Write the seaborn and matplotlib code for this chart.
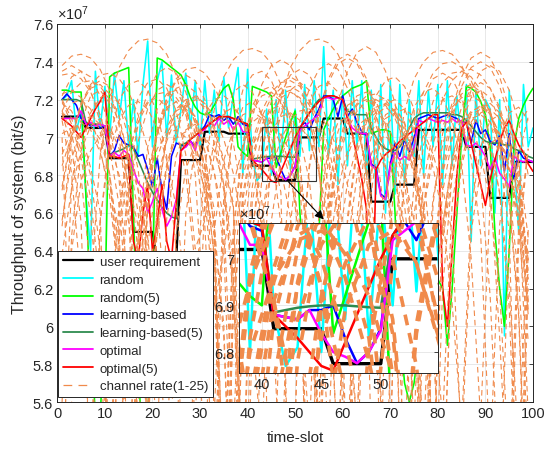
import numpy as np
import pandas as pd
import matplotlib
matplotlib.use('Agg')
import matplotlib.pyplot as plt
import seaborn as sns
from matplotlib.lines import Line2D
from matplotlib.patches import Rectangle
from matplotlib.ticker import FuncFormatter

# ---- data (values in units of 1e7 bit/s) ----
time_slot = np.arange(1, 101)

user_requirement = [
    7.11, 7.11, 7.11, 7.11, 7.11, 7.05, 7.05, 7.05, 7.05, 7.05,
    6.89, 6.89, 6.89, 6.89, 6.89, 6.50, 6.50, 6.50, 6.50, 6.50,
    6.35, 6.35, 6.35, 6.35, 6.35, 6.88, 6.88, 6.88, 6.88, 6.88,
    7.03, 7.03, 7.03, 7.03, 7.03, 7.02, 7.02, 7.02, 7.02, 7.02,
    6.85, 6.85, 6.85, 6.85, 6.85, 6.775, 6.775, 6.775, 6.775, 6.775,
    7.00, 7.00, 7.00, 7.00, 7.00, 7.10, 7.10, 7.10, 7.10, 7.10,
    7.02, 7.02, 7.02, 7.02, 7.02, 6.66, 6.66, 6.66, 6.66, 6.66,
    6.75, 6.75, 6.75, 6.75, 6.75, 7.04, 7.04, 7.04, 7.04, 7.04,
    7.04, 7.04, 7.04, 7.04, 7.04, 6.95, 6.95, 6.95, 6.95, 6.95,
    6.68, 6.68, 6.68, 6.68, 6.68, 6.87, 6.87, 6.87, 6.87, 6.87]

random_alloc = [
    7.20, 7.22, 7.30, 7.03, 7.14, 6.70, 6.40, 7.35, 7.05, 7.27,
    7.00, 7.34, 7.10, 7.30, 6.95, 7.20, 6.90, 7.28, 7.51, 6.95,
    7.30, 7.40, 7.00, 7.33, 6.97, 7.15, 7.34, 7.05, 7.30, 6.95,
    7.30, 7.02, 7.25, 6.98, 7.32, 7.05, 7.22, 7.37, 6.80, 7.36,
    6.89, 6.77, 6.81, 7.15, 6.80, 7.20, 6.87, 7.25, 6.83, 7.15,
    6.90, 7.28, 6.93, 7.30, 6.95, 7.48, 6.90, 7.25, 6.75, 7.25,
    6.85, 7.30, 6.95, 7.30, 6.80, 7.25, 6.70, 7.28, 6.60, 7.30,
    6.70, 7.28, 6.75, 7.20, 6.90, 7.30, 6.80, 7.25, 6.95, 7.28,
    6.75, 7.30, 6.85, 7.22, 6.95, 7.28, 6.45, 7.25, 6.85, 7.20,
    7.15, 6.60, 7.20, 5.95, 7.25, 6.90, 6.50, 7.28, 6.95, 7.05]

random_5 = [
    7.25, 7.25, 7.24, 7.24, 7.24, 6.70, 6.10, 5.50, 5.50, 6.10,
    7.32, 7.34, 7.35, 7.36, 7.37, 6.60, 5.80, 5.30, 5.50, 6.20,
    7.42, 7.41, 7.39, 7.37, 7.35, 7.33, 7.28, 7.21, 7.16, 7.13,
    7.12, 7.13, 7.17, 7.22, 7.26, 7.28, 7.20, 6.95, 6.92, 6.90,
    7.27, 7.26, 7.25, 7.24, 7.22, 6.84, 6.92, 7.00, 7.08, 7.14,
    6.60, 6.30, 6.10, 6.20, 6.50, 7.04, 7.10, 7.15, 7.19, 7.22,
    7.24, 7.26, 7.27, 7.28, 7.30, 7.02, 7.03, 7.04, 7.04, 7.03,
    6.60, 6.00, 5.70, 5.60, 5.70, 5.90, 6.10, 6.30, 6.30, 6.25,
    6.20, 5.90, 6.20, 6.60, 7.00, 7.27, 7.26, 7.24, 7.19, 7.12,
    6.95, 6.50, 6.20, 6.00, 6.40, 6.95, 7.10, 7.17, 7.22, 7.26]

learning = [
    7.20, 7.23, 7.20, 7.17, 7.10, 7.08, 7.06, 7.07, 7.05, 7.06,
    6.90, 6.93, 7.01, 6.97, 6.96, 6.95, 6.90, 6.91, 6.83, 6.74,
    6.89, 6.72, 6.62, 6.90, 6.97, 6.96, 6.95, 6.98, 6.95, 7.03,
    7.06, 7.12, 7.11, 7.12, 7.09, 7.11, 7.07, 7.11, 7.07, 7.06,
    6.88, 6.875, 6.87, 6.89, 6.89, 6.90, 6.83, 6.776, 6.80, 6.85,
    7.05, 7.08, 7.04, 7.10, 7.15, 7.22, 7.22, 7.20, 7.11, 7.22,
    7.11, 7.15, 7.08, 7.03, 7.01, 6.86, 6.84, 6.70, 6.68, 6.86,
    6.97, 6.90, 6.99, 6.92, 7.00, 7.10, 7.11, 7.12, 7.11, 7.10,
    7.11, 7.12, 7.11, 7.10, 7.08, 7.08, 6.97, 7.09, 7.02, 7.04,
    6.98, 6.96, 7.01, 6.82, 7.02, 6.78, 6.93, 6.89, 6.88, 6.87]

learning_5 = [
    7.20, 7.20, 7.20, 7.20, 7.19, 7.08, 7.07, 7.07, 7.07, 7.06,
    6.91, 6.92, 6.93, 6.94, 6.96, 6.94, 6.88, 6.82, 6.76, 6.71,
    6.67, 6.63, 6.60, 6.58, 6.57, 6.96, 6.97, 6.99, 7.01, 7.03,
    7.05, 7.07, 7.09, 7.10, 7.11, 7.11, 7.10, 7.09, 7.08, 7.07,
    6.885, 6.89, 6.895, 6.898, 6.90, 6.90, 6.90, 6.898, 6.896, 6.895,
    7.05, 7.09, 7.13, 7.17, 7.20, 7.21, 7.22, 7.22, 7.21, 7.20,
    7.14, 7.13, 7.12, 7.12, 7.12, 7.05, 7.00, 6.96, 6.94, 6.93,
    6.93, 6.95, 6.99, 7.05, 7.10, 7.12, 7.13, 7.13, 7.13, 7.13,
    7.13, 7.13, 7.12, 7.12, 7.11, 7.09, 7.06, 7.03, 7.00, 6.98,
    6.97, 6.97, 6.97, 6.96, 6.96, 6.94, 6.93, 6.92, 6.90, 6.89]

optimal = [
    7.10, 7.10, 7.10, 7.10, 7.14, 7.07, 7.08, 7.06, 7.07, 7.06,
    6.90, 6.92, 6.90, 6.93, 6.91, 6.83, 6.76, 6.73, 6.60, 6.66,
    6.73, 6.62, 6.53, 6.58, 6.67, 6.93, 6.95, 6.98, 6.93, 7.03,
    7.04, 7.08, 7.06, 7.10, 7.07, 7.09, 7.04, 7.08, 7.03, 7.03,
    6.88, 6.875, 6.87, 6.89, 6.84, 6.80, 6.79, 6.776, 6.80, 6.846,
    7.04, 7.06, 7.08, 7.10, 7.12, 7.21, 7.21, 7.20, 7.21, 7.20,
    7.10, 7.05, 7.03, 7.02, 7.02, 6.85, 6.83, 6.69, 6.67, 6.85,
    6.92, 6.88, 6.90, 6.88, 6.95, 7.09, 7.08, 7.10, 7.09, 7.08,
    7.09, 7.08, 7.10, 7.08, 7.09, 6.96, 6.95, 6.97, 6.94, 6.90,
    6.83, 6.89, 6.81, 6.78, 6.74, 6.90, 6.88, 6.87, 6.88, 6.87]

optimal_5 = [
    7.10, 7.08, 7.06, 7.03, 7.00, 7.05, 7.10, 7.15, 7.19, 7.24,
    6.90, 6.90, 6.89, 6.90, 6.91, 6.45, 6.35, 6.60, 6.75, 6.40,
    6.55, 6.75, 6.45, 6.35, 6.65, 6.93, 6.96, 6.99, 7.01, 7.03,
    7.05, 7.07, 7.09, 7.11, 7.11, 7.11, 7.10, 7.09, 7.08, 7.07,
    6.88, 6.855, 6.83, 6.80, 6.77, 6.76, 6.82, 6.88, 6.94, 7.00,
    7.05, 7.09, 7.13, 7.16, 7.19, 7.21, 7.22, 7.22, 7.21, 7.20,
    7.10, 7.02, 6.90, 6.78, 6.62, 5.80, 6.83, 6.88, 6.91, 6.93,
    6.95, 6.98, 7.00, 7.02, 7.04, 7.06, 7.08, 7.10, 7.12, 7.12,
    6.20, 6.00, 6.40, 6.80, 7.05, 7.08, 6.97, 6.86, 6.75, 6.64,
    6.78, 6.88, 6.98, 7.05, 7.09, 7.02, 6.96, 6.92, 6.86, 6.82]

# channel rates of 25 channels, sampled every 2 slots (x 1e5 bit/s)
channel_slot = np.arange(1, 101, 2)
channel_rate = [
    [745, 748, 745, 735, 718, 690, 630, 520, 660, 705, 725, 733, 735, 730, 718, 695, 645, 450, 620, 680, 708, 724, 734, 739, 740, 737, 730, 718, 700, 670, 610, 560, 675, 708, 722, 725, 718, 700, 660, 480, 630, 690, 718, 735, 745, 748, 745, 735, 718, 690],
    [725, 733, 735, 730, 718, 695, 645, 480, 630, 690, 718, 735, 745, 748, 745, 735, 718, 690, 630, 540, 665, 702, 718, 726, 728, 724, 714, 697, 672, 625, 520, 660, 705, 725, 733, 735, 730, 718, 695, 645, 660, 695, 715, 728, 732, 728, 716, 698, 675, 650],
    [739, 740, 737, 730, 718, 700, 670, 610, 560, 675, 708, 722, 725, 718, 700, 660, 560, 675, 708, 722, 725, 718, 700, 660, 480, 630, 690, 718, 735, 745, 748, 745, 735, 718, 690, 630, 540, 665, 702, 718, 726, 728, 724, 714, 697, 672, 625, 530, 660, 700],
    [700, 560, 440, 620, 690, 720, 737, 746, 751, 752, 750, 744, 733, 714, 680, 600, 520, 660, 705, 725, 733, 735, 730, 718, 695, 645, 480, 630, 690, 718, 735, 745, 748, 745, 735, 718, 690, 630, 540, 665, 702, 718, 726, 728, 724, 714, 697, 672, 625, 540],
    [560, 675, 708, 722, 725, 718, 700, 660, 540, 665, 702, 718, 726, 728, 724, 714, 697, 672, 625, 520, 440, 620, 690, 720, 737, 746, 751, 752, 750, 744, 733, 714, 680, 600, 450, 620, 680, 708, 724, 734, 739, 740, 737, 730, 718, 700, 670, 610, 480, 640],
    [726, 728, 724, 714, 697, 672, 625, 450, 620, 680, 708, 724, 734, 739, 740, 737, 730, 718, 700, 670, 610, 660, 695, 715, 728, 732, 728, 716, 698, 675, 520, 660, 705, 725, 733, 735, 730, 718, 480, 630, 690, 718, 735, 745, 748, 745, 735, 718, 690, 630],
    [690, 718, 735, 745, 748, 745, 735, 718, 690, 630, 560, 675, 708, 722, 725, 718, 700, 660, 520, 660, 705, 725, 733, 735, 730, 718, 695, 645, 560, 675, 708, 722, 725, 718, 700, 660, 450, 620, 680, 708, 724, 734, 739, 740, 737, 730, 718, 700, 670, 610],
    [520, 660, 705, 725, 733, 735, 730, 718, 695, 645, 660, 695, 715, 728, 732, 728, 716, 698, 675, 480, 630, 690, 718, 735, 745, 748, 745, 735, 718, 690, 630, 560, 675, 708, 722, 725, 718, 700, 660, 540, 665, 702, 718, 726, 728, 724, 714, 697, 672, 625],
    [680, 708, 724, 734, 739, 740, 737, 730, 718, 700, 670, 610, 540, 665, 702, 718, 726, 728, 724, 714, 697, 672, 625, 520, 660, 705, 725, 733, 735, 730, 718, 695, 645, 440, 620, 690, 720, 737, 746, 751, 752, 750, 744, 733, 714, 680, 600, 500, 650, 700],
    [722, 725, 718, 700, 660, 480, 630, 690, 718, 735, 745, 748, 745, 735, 718, 690, 630, 660, 695, 715, 728, 732, 728, 716, 698, 675, 450, 620, 680, 708, 724, 734, 739, 740, 737, 730, 718, 700, 670, 610, 520, 660, 705, 725, 733, 735, 730, 718, 695, 645],
    [732, 728, 716, 698, 675, 520, 660, 705, 725, 733, 735, 730, 718, 695, 645, 540, 665, 702, 718, 726, 728, 724, 714, 697, 672, 625, 560, 675, 708, 722, 725, 718, 700, 660, 480, 630, 690, 718, 735, 745, 748, 745, 735, 718, 690, 630, 520, 660, 705, 725],
    [540, 665, 702, 718, 726, 728, 724, 714, 697, 672, 625, 560, 675, 708, 722, 725, 718, 700, 660, 450, 620, 680, 708, 724, 734, 739, 740, 737, 730, 718, 700, 670, 610, 660, 695, 715, 728, 732, 728, 716, 698, 675, 560, 675, 708, 722, 725, 718, 700, 660],
    [746, 751, 752, 750, 744, 733, 714, 680, 600, 560, 675, 708, 722, 725, 718, 700, 660, 520, 660, 705, 725, 733, 735, 730, 718, 695, 645, 540, 665, 702, 718, 726, 728, 724, 714, 697, 672, 625, 480, 630, 690, 718, 735, 745, 748, 745, 735, 718, 690, 630],
    [730, 718, 695, 645, 450, 620, 680, 708, 724, 734, 739, 740, 737, 730, 718, 700, 670, 610, 480, 630, 690, 718, 735, 745, 748, 745, 735, 718, 690, 630, 660, 695, 715, 728, 732, 728, 716, 698, 675, 540, 665, 702, 718, 726, 728, 724, 714, 697, 672, 625],
    [718, 690, 630, 540, 665, 702, 718, 726, 728, 724, 714, 697, 672, 625, 560, 675, 708, 722, 725, 718, 700, 660, 480, 630, 690, 718, 735, 745, 748, 745, 735, 718, 690, 630, 520, 660, 705, 725, 733, 735, 730, 718, 695, 645, 560, 675, 708, 722, 725, 718],
    [718, 700, 660, 520, 660, 705, 725, 733, 735, 730, 718, 695, 645, 440, 620, 690, 720, 737, 746, 751, 752, 750, 744, 733, 714, 680, 600, 560, 675, 708, 722, 725, 718, 700, 660, 450, 620, 680, 708, 724, 734, 739, 740, 737, 730, 718, 700, 670, 610, 470],
    [660, 695, 715, 728, 732, 728, 716, 698, 675, 560, 675, 708, 722, 725, 718, 700, 660, 540, 665, 702, 718, 726, 728, 724, 714, 697, 672, 625, 660, 695, 715, 728, 732, 728, 716, 698, 675, 480, 630, 690, 718, 735, 745, 748, 745, 735, 718, 690, 630, 500],
    [730, 718, 700, 670, 610, 480, 630, 690, 718, 735, 745, 748, 745, 735, 718, 690, 630, 520, 660, 705, 725, 733, 735, 730, 718, 695, 645, 520, 660, 705, 725, 733, 735, 730, 718, 695, 645, 560, 675, 708, 722, 725, 718, 700, 660, 540, 665, 702, 718, 726],
    [702, 718, 726, 728, 724, 714, 697, 672, 625, 660, 695, 715, 728, 732, 728, 716, 698, 675, 560, 675, 708, 722, 725, 718, 700, 660, 450, 620, 680, 708, 724, 734, 739, 740, 737, 730, 718, 700, 670, 610, 520, 660, 705, 725, 733, 735, 730, 718, 695, 645],
    [660, 705, 725, 733, 735, 730, 718, 695, 645, 560, 675, 708, 722, 725, 718, 700, 660, 480, 630, 690, 718, 735, 745, 748, 745, 735, 718, 690, 630, 540, 665, 702, 718, 726, 728, 724, 714, 697, 672, 625, 660, 695, 715, 728, 732, 728, 716, 698, 675, 560],
    [735, 745, 748, 745, 735, 718, 690, 630, 660, 695, 715, 728, 732, 728, 716, 698, 675, 450, 620, 680, 708, 724, 734, 739, 740, 737, 730, 718, 700, 670, 610, 540, 665, 702, 718, 726, 728, 724, 714, 697, 672, 625, 560, 675, 708, 722, 725, 718, 700, 660],
    [675, 708, 722, 725, 718, 700, 660, 450, 620, 680, 708, 724, 734, 739, 740, 737, 730, 718, 700, 670, 610, 560, 675, 708, 722, 725, 718, 700, 660, 660, 695, 715, 728, 732, 728, 716, 698, 675, 480, 630, 690, 718, 735, 745, 748, 745, 735, 718, 690, 630],
    [724, 714, 697, 672, 625, 520, 660, 705, 725, 733, 735, 730, 718, 695, 645, 660, 695, 715, 728, 732, 728, 716, 698, 675, 480, 630, 690, 718, 735, 745, 748, 745, 735, 718, 690, 630, 450, 620, 680, 708, 724, 734, 739, 740, 737, 730, 718, 700, 670, 610],
    [715, 728, 732, 728, 716, 698, 675, 540, 665, 702, 718, 726, 728, 724, 714, 697, 672, 625, 480, 630, 690, 718, 735, 745, 748, 745, 735, 718, 690, 630, 560, 675, 708, 722, 725, 718, 700, 660, 520, 660, 705, 725, 733, 735, 730, 718, 695, 645, 560, 675],
    [724, 734, 739, 740, 737, 730, 718, 700, 670, 610, 660, 695, 715, 728, 732, 728, 716, 698, 675, 520, 660, 705, 725, 733, 735, 730, 718, 695, 645, 540, 665, 702, 718, 726, 728, 724, 714, 697, 672, 625, 560, 675, 708, 722, 725, 718, 700, 660, 480, 630],
]
# level shift of each channel (x 1e5 bit/s)
channel_offset = [-10, -15, -6, 0, 0, -3, -18, -12, -6, -20, -14, -25, -8, -16, -9,
                  -5, -22, -11, -17, -7, -13, -19, -4, -24, -10]

series = [
    ('user requirement', user_requirement, '#000000'),
    ('random', random_alloc, '#00FFFF'),
    ('random(5)', random_5, '#00FF00'),
    ('learning-based', learning, '#0000FF'),
    ('learning-based(5)', learning_5, '#2E8B4F'),
    ('optimal', optimal, '#FF00FF'),
    ('optimal(5)', optimal_5, '#FF0000'),
]
chan_color = '#F08A4B'
chan_label = 'channel rate(1-25)'

sns.set_theme(style='white')
plt.rcParams['font.family'] = ['Liberation Sans', 'DejaVu Sans']
plt.rcParams['mathtext.fontset'] = 'custom'
plt.rcParams['mathtext.rm'] = 'Liberation Sans'
plt.rcParams['mathtext.it'] = 'Liberation Sans:italic'
plt.rcParams['axes.edgecolor'] = '#262626'
plt.rcParams['axes.linewidth'] = 0.7
plt.rcParams['xtick.color'] = '#262626'
plt.rcParams['ytick.color'] = '#262626'


def draw(ax, big=False):
    for name, vals, col in series:
        if big:
            lw = 2.4 if name == 'user requirement' else 1.8
        else:
            lw = 1.6 if name == 'user requirement' else 1.15
        sns.lineplot(x=time_slot, y=vals, color=col, linewidth=lw, ax=ax,
                     estimator=None, sort=False, legend=False)
    for row, off in zip(channel_rate, channel_offset):
        sns.lineplot(x=channel_slot[:len(row)], y=(np.array(row) + off) / 100.0,
                     color=chan_color, linewidth=2.6 if big else 0.8, ax=ax,
                     estimator=None, sort=False, legend=False)
        ax.lines[-1].set_dashes((3, 2.2) if big else (5, 3.5))


def style_axes(ax, fs):
    ax.grid(True, color='#E4E4E4', linewidth=0.6)
    ax.set_axisbelow(True)
    ax.tick_params(direction='in', top=True, right=True, length=3,
                   width=0.6, labelsize=fs, pad=3)
    ax.yaxis.set_major_formatter(FuncFormatter(lambda v, p: f'{v:g}'))
    for s in ax.spines.values():
        s.set_visible(True)
    ax.set_xlabel('')
    ax.set_ylabel('')


fig = plt.figure(figsize=(5.48, 4.52), dpi=100)
ax = fig.add_axes([0.1046, 0.1084, 0.868, 0.8363])
draw(ax)
ax.set_xlim(0, 100)
ax.set_ylim(5.6, 7.6)
ax.set_xticks(np.arange(0, 101, 10))
ax.set_yticks(np.arange(5.6, 7.61, 0.2))
style_axes(ax, 10.5)
ax.set_xlabel('time-slot', fontsize=11, color='#262626', labelpad=7)
ax.set_ylabel('Throughput of system (bit/s)', fontsize=11.5, color='#262626', labelpad=4)
ax.text(0.0, 1.004, r'$\times10^{7}$', transform=ax.transAxes, fontsize=10.5,
        color='#262626', va='bottom', ha='left')

# zoom box and arrow
ax.add_patch(Rectangle((43.0, 6.769), 11.3, 0.286, fill=False,
                       edgecolor='#333333', linewidth=0.8, zorder=6))
ax.annotate('', xy=(56.0, 6.566), xytext=(48.6, 6.765),
            arrowprops=dict(arrowstyle='-|>', color='black', lw=0.8,
                            mutation_scale=13, shrinkA=0, shrinkB=0),
            zorder=7, annotation_clip=False)

handles = [Line2D([], [], color=c, lw=1.6 if n == 'user requirement' else 1.3)
           for n, _, c in series]
handles.append(Line2D([], [], color=chan_color, lw=0.9, dashes=(7, 5)))
labels = [n for n, _, _ in series] + [chan_label]
leg = ax.legend(handles, labels, loc='lower left', bbox_to_anchor=(0.0015, 0.013),
                frameon=True, fancybox=False, edgecolor='#262626', framealpha=1,
                fontsize=9.5, handlelength=2.3, borderpad=0.35, labelspacing=0.42,
                handletextpad=0.5, borderaxespad=0)
leg.get_frame().set_linewidth(0.7)
leg.set_zorder(20)

# inset
axins = fig.add_axes([0.436, 0.1726, 0.363, 0.332])
axins.set_facecolor('white')
draw(axins, big=True)
axins.set_xlim(38.07, 54.8)
axins.set_ylim(6.755, 7.077)
axins.set_xticks([40, 45, 50])
axins.set_yticks([6.8, 6.9, 7.0])
style_axes(axins, 10.5)
axins.text(0.0, 1.004, r'$\times10^{7}$', transform=axins.transAxes, fontsize=10.5,
           color='#262626', va='bottom', ha='left')

fig.savefig('out.png', dpi=100)
